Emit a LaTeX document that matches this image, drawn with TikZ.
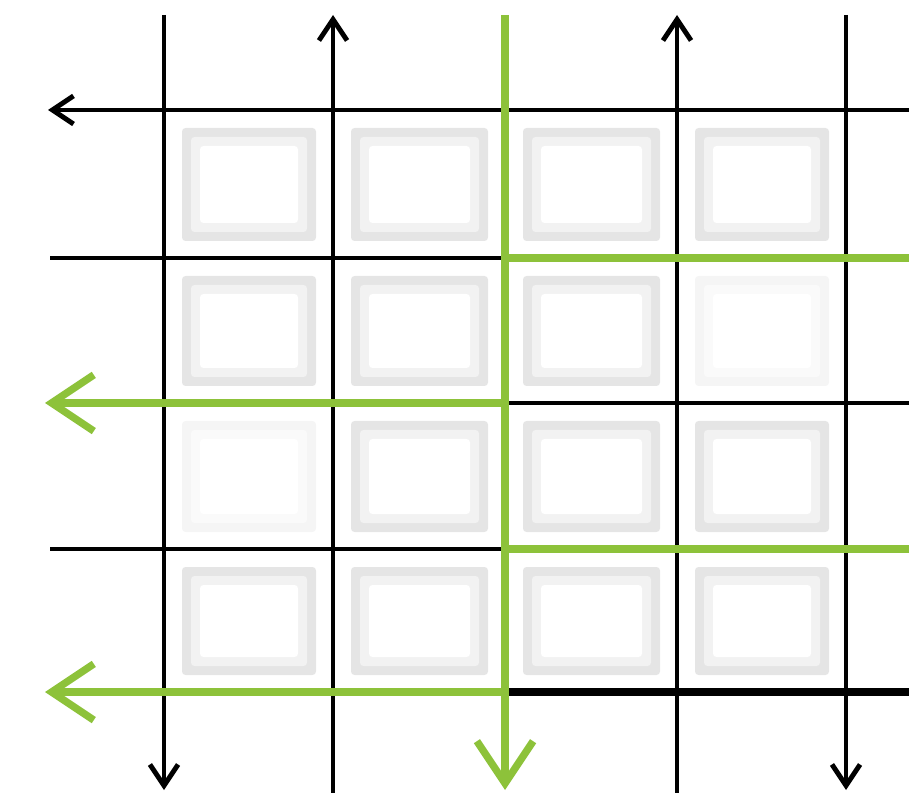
\documentclass[tikz,border=0pt]{standalone}
\usetikzlibrary{arrows.meta}
\definecolor{leaf}{RGB}{141,194,58}

\tikzset{
  gridline/.style={black, line width=2.8pt},
  greenline/.style={leaf, line width=4.2pt},
  boldline/.style={black, line width=5pt},
  blackhead/.style={-{Straight Barb[length=12pt, width=16pt]}},
  greenhead/.style={-{Straight Barb[length=24pt, width=32pt]}},
  cellbox/.style={draw=none, rounded corners=2pt},
}

\begin{document}
\begin{tikzpicture}[x=0.02cm, y=-0.02cm]
\useasboundingbox (0,0) rectangle (909,793);

% grey boxes inside the cells
\foreach \x/\xn [count=\i] in {164/333, 333/505, 505/677, 677/846}
  \foreach \y/\yn [count=\j] in {110/258, 258/403, 403/549, 549/692}{
    \pgfmathtruncatemacro\shade{((\i==4 && \j==2) || (\i==1 && \j==3)) ? 4 : 10}
    \pgfmathtruncatemacro\half{\shade/2}
    \fill[cellbox, black!\shade] (\x+18,\y+18) rectangle (\xn-17,\yn-17);
    \fill[cellbox, black!\half] (\x+27,\y+27) rectangle (\xn-26,\yn-26);
    \fill[cellbox, white] (\x+36,\y+36) rectangle (\xn-35,\yn-35);
  }

% vertical black lines
\draw[gridline, blackhead] (164,15) -- (164,790);
\draw[gridline, blackhead] (333,793) -- (333,15);
\draw[gridline, blackhead] (677,793) -- (677,15);
\draw[gridline, blackhead] (846,15) -- (846,790);

% horizontal lines, left half
\draw[gridline, blackhead] (909,110) -- (48,110);
\draw[gridline] (50,258) -- (505,258);
\draw[gridline] (50,549) -- (505,549);

% horizontal lines, right half
\draw[gridline] (505,403) -- (909,403);
\draw[boldline] (505,692) -- (909,692);

% green path
\draw[greenline] (505,258) -- (909,258);
\draw[greenline] (505,549) -- (909,549);
\draw[greenline, greenhead] (505,403) -- (45,403);
\draw[greenline, greenhead] (505,692) -- (45,692);
\draw[greenline, greenhead] (505,15) -- (505,790);

\end{tikzpicture}
\end{document}
